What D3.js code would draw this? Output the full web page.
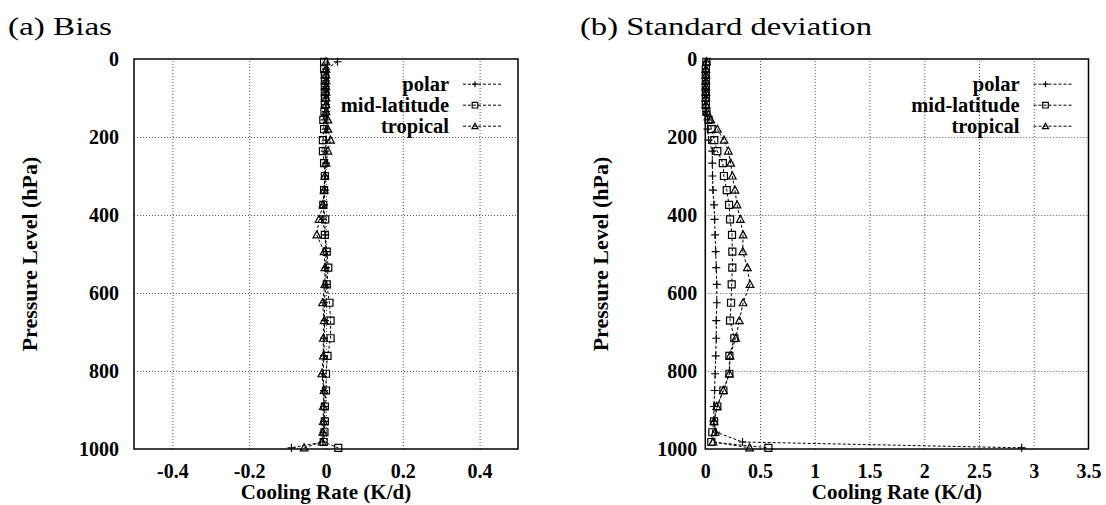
<!DOCTYPE html>
<html>
<head>
<meta charset="utf-8">
<script src="https://cdn.jsdelivr.net/npm/d3@7"></script>
<style>
  html, body { margin: 0; padding: 0; background: #fff; }
  svg { display: block; }
</style>
</head>
<body>
<svg id="chart" width="1106" height="505"></svg>
<script>
// ---------------- data ----------------
const levels = [7, 26, 41, 56, 71, 85, 100, 117, 135, 156, 180, 208, 236, 267, 300, 336, 374, 411, 451, 494, 535, 578, 625, 671, 716, 761, 807, 850, 891, 929, 957, 982, 997];

const seriesNames = ["polar", "mid-latitude", "tropical"];

const biasPolar = [0.03, 0.0, 0.0, 0.0, 0.0, 0.0, 0.0, 0.0, 0.0, -0.003, 0.0, 0.0, -0.003, 0.0, -0.002, -0.003, -0.005, -0.008, -0.002, 0.0, 0.0, 0.0, -0.005, -0.003, -0.005, -0.005, -0.008, -0.005, -0.005, -0.005, -0.007, -0.008, -0.09];
const biasMid   = [-0.005, -0.005, -0.003, -0.003, -0.003, -0.003, -0.003, -0.003, -0.004, -0.007, -0.005, -0.008, -0.008, -0.005, -0.003, -0.005, -0.007, -0.002, -0.003, 0.002, 0.006, 0.002, 0.009, 0.012, 0.012, 0.004, 0.0, 0.0, -0.003, -0.003, -0.004, -0.006, 0.032];
const biasTrop  = [0.0, 0.0, 0.0, 0.0, 0.0, 0.0, 0.0, 0.0, 0.0, 0.005, 0.005, 0.012, 0.005, 0.0, -0.003, -0.005, -0.008, -0.018, -0.024, -0.005, -0.003, -0.003, -0.009, -0.005, -0.007, -0.007, -0.011, -0.005, -0.007, -0.007, -0.008, -0.01, -0.057];

const sdPolar = [0.01, 0.005, 0.005, 0.005, 0.005, 0.005, 0.005, 0.005, 0.01, 0.02, 0.02, 0.03, 0.064, 0.064, 0.066, 0.07, 0.08, 0.085, 0.09, 0.095, 0.1, 0.105, 0.105, 0.1, 0.1, 0.095, 0.09, 0.085, 0.08, 0.075, 0.1, 0.34, 2.89];
const sdMid   = [0.01, 0.005, 0.005, 0.005, 0.005, 0.005, 0.005, 0.005, 0.01, 0.03, 0.058, 0.082, 0.11, 0.16, 0.17, 0.196, 0.217, 0.226, 0.244, 0.247, 0.247, 0.241, 0.235, 0.226, 0.265, 0.22, 0.22, 0.165, 0.11, 0.08, 0.064, 0.055, 0.576];
const sdTrop  = [0.01, 0.005, 0.005, 0.005, 0.005, 0.005, 0.005, 0.005, 0.015, 0.05, 0.11, 0.171, 0.21, 0.232, 0.247, 0.271, 0.29, 0.32, 0.345, 0.342, 0.384, 0.409, 0.345, 0.311, 0.278, 0.226, 0.22, 0.165, 0.105, 0.08, 0.09, 0.07, 0.405];

const biasTicksX = [-0.4, -0.2, 0, 0.2, 0.4];
const sdTicksX = [0, 0.5, 1, 1.5, 2, 2.5, 3, 3.5];
const yTicks = [0, 200, 400, 600, 800, 1000];

const panelTitles = ["(a) Bias", "(b) Standard deviation"];
const xTitle = "Cooling Rate (K/d)";
const yTitle = "Pressure Level (hPa)";

// ---------------- layout ----------------
const FONT = '"Liberation Serif"';
const svg = d3.select("#chart");
svg.append("rect").attr("width", 1106).attr("height", 505).attr("fill", "#fff");

const panels = [
  { title: panelTitles[0], titleX: 8, titleW: 104, left: 134, right: 518, xDomain: [-0.5, 0.5], xTicks: biasTicksX, yPad: 15,
    series: [biasPolar, biasMid, biasTrop] },
  { title: panelTitles[1], titleX: 580, titleW: 292, left: 705.3, right: 1088.5, xDomain: [0, 3.5], xTicks: sdTicksX, yPad: 8,
    series: [sdPolar, sdMid, sdTrop] }
];
const plotTop = 59, plotBottom = 449;

const markerPath = [
  "M-4,0H4M0,-4V4",
  "M-3.5,-3.5H3.5V3.5H-3.5Z",
  "M0,-4L3.8,3H-3.8Z"
];
const legendMarkerPath = [
  "M-3,0H3M0,-3V3",
  "M-2.8,-2.8H2.8V2.8H-2.8Z",
  "M0,-3L3,2.4H-3Z"
];

function drawMarker(g, d, x, y) {
  g.append("path").attr("d", d).attr("transform", `translate(${x},${y})`)
    .attr("fill", "none").attr("stroke", "#000").attr("stroke-width", 1.2);
}

function styleText(sel, size, bold) {
  return sel.style("font-family", FONT).style("font-size", size + "px")
    .style("font-weight", bold ? "bold" : "normal").style("fill", "#000");
}

panels.forEach(p => {
  const x = d3.scaleLinear().domain(p.xDomain).range([p.left, p.right]);
  const y = d3.scaleLinear().domain([0, 1000]).range([plotTop, plotBottom]);
  const g = svg.append("g");
  const w = p.right - p.left, h = plotBottom - plotTop;

  // grid
  g.append("g").attr("transform", `translate(0,${plotBottom})`)
    .call(d3.axisBottom(x).tickValues(p.xTicks.filter(v => v > p.xDomain[0] && v < p.xDomain[1])).tickSize(-h).tickFormat(""))
    .call(a => a.select(".domain").remove())
    .call(a => a.selectAll("line").attr("stroke", "#555").attr("stroke-width", 1).attr("stroke-dasharray", "1,2"));
  g.append("g").attr("transform", `translate(${p.left},0)`)
    .call(d3.axisLeft(y).tickValues(yTicks.filter(v => v > 0 && v < 1000)).tickSize(-w).tickFormat(""))
    .call(a => a.select(".domain").remove())
    .call(a => a.selectAll("line").attr("stroke", "#555").attr("stroke-width", 1).attr("stroke-dasharray", "1,2"));

  // tick labels
  g.append("g").attr("transform", `translate(0,${plotBottom})`)
    .call(d3.axisBottom(x).tickValues(p.xTicks).tickSize(0).tickPadding(15).tickFormat(d => String(d)))
    .call(a => a.select(".domain").remove())
    .call(a => styleText(a.selectAll("text"), 20, true));
  g.append("g").attr("transform", `translate(${p.left},0)`)
    .call(d3.axisLeft(y).tickValues(yTicks).tickSize(0).tickPadding(p.yPad).tickFormat(d => String(d)))
    .call(a => a.select(".domain").remove())
    .call(a => styleText(a.selectAll("text"), 20, true));

  // axis titles
  styleText(g.append("text").attr("x", (p.left + p.right) / 2).attr("y", 499).attr("text-anchor", "middle"), 21, true)
    .text(xTitle);
  styleText(g.append("text").attr("transform", `translate(${p.left - 97.5},${(plotTop + plotBottom) / 2}) rotate(-90)`)
    .attr("text-anchor", "middle"), 22, true).text(yTitle);

  // panel title
  styleText(g.append("text").attr("x", p.titleX).attr("y", 35)
    .attr("textLength", p.titleW).attr("lengthAdjust", "spacingAndGlyphs"), 26, false).text(p.title);

  // series
  const line = d3.line().x(d => x(d[0])).y(d => y(d[1]));
  p.series.forEach((vals, i) => {
    const pts = vals.map((v, k) => [v, levels[k]]);
    g.append("path").datum(pts).attr("d", line).attr("fill", "none")
      .attr("stroke", "#000").attr("stroke-width", 1).attr("stroke-dasharray", "3,2");
    pts.forEach(d => drawMarker(g, markerPath[i], x(d[0]), y(d[1])));
  });

  // legend
  const legBase = [91, 112, 133];
  seriesNames.forEach((name, i) => {
    styleText(g.append("text").attr("x", p.right - 69).attr("y", legBase[i]).attr("text-anchor", "end"), 20.5, true)
      .text(name);
    const ly = legBase[i] - 6.8;
    g.append("line").attr("x1", p.right - 55).attr("x2", p.right - 17).attr("y1", ly).attr("y2", ly)
      .attr("stroke", "#000").attr("stroke-width", 1).attr("stroke-dasharray", "3,2");
    drawMarker(g, legendMarkerPath[i], p.right - 43, ly);
  });

  // frame
  g.append("rect").attr("x", p.left).attr("y", plotTop).attr("width", w).attr("height", h)
    .attr("fill", "none").attr("stroke", "#000").attr("stroke-width", 1.5);
});
</script>
</body>
</html>
